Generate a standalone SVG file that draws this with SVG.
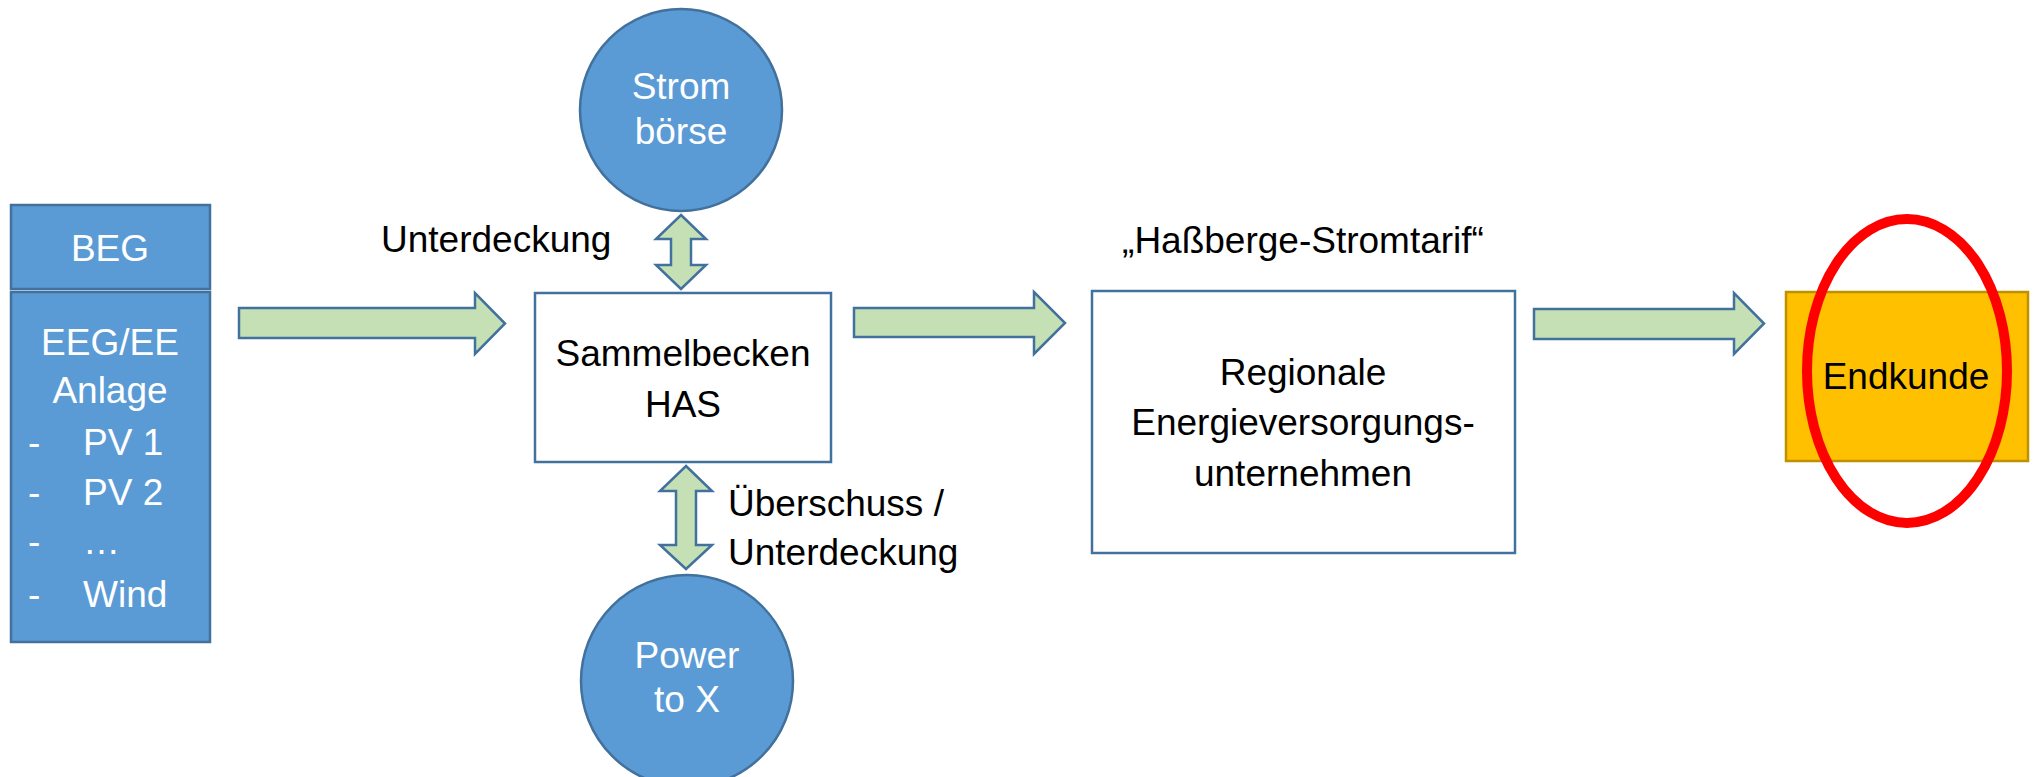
<svg xmlns="http://www.w3.org/2000/svg" width="2033" height="777" viewBox="0 0 2033 777">
<style>
text{font-family:"Liberation Sans",Arial,sans-serif;font-size:37px;fill:#000}
.w{fill:#fff;text-anchor:middle}
.c{text-anchor:middle}
.blue{fill:#5B9BD5;stroke:#41719C;stroke-width:2.5}
.box{fill:#fff;stroke:#41719C;stroke-width:2.5}
.arr{fill:#C5E0B4;stroke:#41719C;stroke-width:2.5;stroke-linejoin:miter}
</style>
<rect width="2033" height="777" fill="#fff"/>
<g id="connectors">
<polygon class="arr" points="239,308 475,308 475,293 505,323.5 475,354 475,338 239,338"/>
<polygon class="arr" points="854,308 1034,308 1034,292 1065,323 1034,354 1034,337 854,337"/>
<polygon class="arr" points="1534,309 1734,309 1734,293 1764,323.5 1734,354 1734,339 1534,339"/>
<polygon class="arr" points="681,215 706,239 691,239 691,265 706,265 681,289 656,265 671,265 671,239 656,239"/>
<polygon class="arr" points="686,466 712,491 696,491 696,545 712,545 686,569 660,545 676,545 676,491 660,491"/>
<text x="381" y="252">Unterdeckung</text>
<text x="728" y="516">Überschuss /</text>
<text x="728" y="565">Unterdeckung</text>
<text class="c" x="1303" y="253">„Haßberge-Stromtarif“</text>
</g>
<g id="beg">
<rect class="blue" x="11" y="205" width="199" height="84"/>
<text class="w" x="110" y="261">BEG</text>
</g>
<g id="anlage">
<rect class="blue" x="11" y="292" width="199" height="350"/>
<text class="w" x="110" y="355">EEG/EE</text>
<text class="w" x="110" y="403">Anlage</text>
<g fill="#fff" style="fill:#fff">
<text x="28" y="455" style="fill:#fff">-</text><text x="83" y="455" style="fill:#fff">PV 1</text>
<text x="28" y="505" style="fill:#fff">-</text><text x="83" y="505" style="fill:#fff">PV 2</text>
<text x="28" y="554" style="fill:#fff">-</text><text x="83" y="554" style="fill:#fff">…</text>
<text x="28" y="607" style="fill:#fff">-</text><text x="83" y="607" style="fill:#fff">Wind</text>
</g>
</g>
<g id="sammelbecken">
<rect class="box" x="535" y="293" width="296" height="169"/>
<text class="c" x="683" y="366">Sammelbecken</text>
<text class="c" x="683" y="417">HAS</text>
</g>
<g id="stromboerse">
<ellipse class="blue" cx="681" cy="110" rx="101" ry="101"/>
<text class="w" x="681" y="99">Strom</text>
<text class="w" x="681" y="144">börse</text>
</g>
<g id="powertox">
<ellipse class="blue" cx="687" cy="681" rx="106" ry="106"/>
<text class="w" x="687" y="668">Power</text>
<text class="w" x="687" y="712">to X</text>
</g>
<g id="regionale">
<rect class="box" x="1092" y="291" width="423" height="262"/>
<text class="c" x="1303" y="385">Regionale</text>
<text class="c" x="1303" y="435">Energieversorgungs-</text>
<text class="c" x="1303" y="486">unternehmen</text>
</g>
<g id="endkunde">
<rect x="1786" y="292" width="242" height="169" fill="#FFC000" stroke="#BF9000" stroke-width="2.5"/>
<text class="c" x="1906" y="389">Endkunde</text>
<ellipse cx="1907" cy="371" rx="100" ry="152" fill="none" stroke="#FF0000" stroke-width="10"/>
</g>
</svg>
